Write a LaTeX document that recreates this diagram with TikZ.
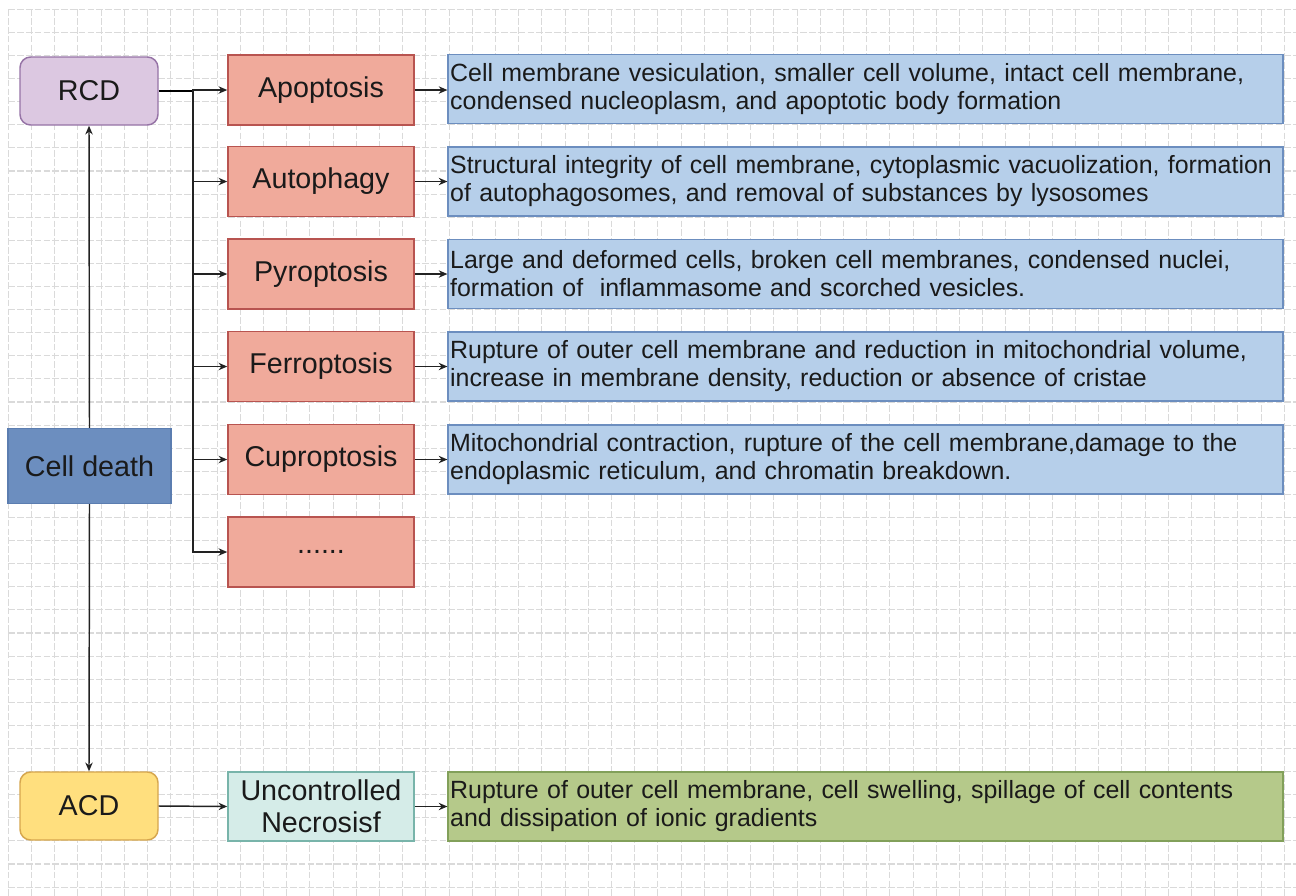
\documentclass[tikz,border=0pt]{standalone}
\usepackage{fontspec}
\setmainfont{Liberation Sans}
\usetikzlibrary{arrows.meta}
\definecolor{txt}{HTML}{1A1A1A}
\definecolor{gridc}{HTML}{DADADA}
\definecolor{rcdfill}{HTML}{DCC8E1}
\definecolor{rcddraw}{HTML}{9673A6}
\definecolor{redfill}{HTML}{F0AA9B}
\definecolor{reddraw}{HTML}{B85450}
\definecolor{bluefill}{HTML}{B6CFEA}
\definecolor{bluedraw}{HTML}{6C8EBF}
\definecolor{cdfill}{HTML}{6C8EBF}
\definecolor{cddraw}{HTML}{5B7DB0}
\definecolor{acdfill}{HTML}{FFDF7E}
\definecolor{acddraw}{HTML}{D6A64E}
\definecolor{necfill}{HTML}{D5ECE8}
\definecolor{necdraw}{HTML}{78B4AA}
\definecolor{grnfill}{HTML}{B5C98A}
\definecolor{grndraw}{HTML}{82A05A}
\definecolor{linec}{HTML}{222222}
\tikzset{
  gridline/.style={draw=gridc, line width=0.8pt, dash pattern=on 5pt off 1.6pt},
  basebox/.style={draw, line width=1.1pt, text=txt, inner sep=0pt, align=center},
  labelfont/.style={font=\fontsize{21.5}{24}\selectfont},
  descfont/.style={font=\fontsize{18.7}{21}\selectfont},
  roundbox/.style={basebox, rounded corners=8pt, minimum width=103.5pt, minimum height=51pt, labelfont},
  redbox/.style={basebox, fill=redfill, draw=reddraw, minimum width=139.5pt, minimum height=52.5pt, labelfont},
  descbox/.style={basebox, minimum width=626pt, minimum height=52pt, text width=623pt, inner xsep=1.5pt, align=left, descfont},
  arr/.style={draw=linec, line width=1.1pt, -{Stealth[length=6.5pt,width=5.5pt]}},
  trunkline/.style={draw=black, line width=2.2pt}
}
\begin{document}
\begin{tikzpicture}[x=0.75pt,y=-0.75pt]
\useasboundingbox (0,0) rectangle (1296,896);
\fill[white] (0,0) rectangle (1296,896);
% grid
\foreach \i in {0,...,55} \draw[gridline] ({8.3+23.2*\i},9.3) -- ({8.3+23.2*\i},896);
\foreach \j in {0,...,38} \draw[gridline] (8.3,{9.3+23.1*\j}) -- (1296,{9.3+23.1*\j});

% left column
\node[roundbox, fill=rcdfill, draw=rcddraw] (rcd) at (89,91) {RCD};
\node[basebox, fill=cdfill, draw=cddraw, minimum width=122pt, minimum height=56pt, labelfont] (cd) at (89.5,466) {Cell death};
\node[roundbox, fill=acdfill, draw=acddraw] (acd) at (89,806) {ACD};

% red column
\node[redbox] (apo) at (321,90) {Apoptosis};
\node[redbox] (aut) at (321,181.5) {Autophagy};
\node[redbox] (pyr) at (321,274) {Pyroptosis};
\node[redbox] (fer) at (321,366.5) {Ferroptosis};
\node[redbox] (cup) at (321,459.5) {Cuproptosis};
\node[redbox] (dots) at (321,552) {......};
\node[basebox, fill=necfill, draw=necdraw, minimum width=139.5pt, minimum height=52pt, labelfont] (nec) at (321,806.5) {Uncontrolled\\Necrosisf};

% descriptions
\node[descbox, fill=bluefill, draw=bluedraw] (d1) at (865.5,89) {Cell membrane vesiculation, smaller cell volume, intact cell membrane,\\condensed nucleoplasm, and apoptotic body formation};
\node[descbox, fill=bluefill, draw=bluedraw] (d2) at (865.5,181.5) {Structural integrity of cell membrane, cytoplasmic vacuolization, formation\\of autophagosomes, and removal of substances by lysosomes};
\node[descbox, fill=bluefill, draw=bluedraw] (d3) at (865.5,274) {Large and deformed cells, broken cell membranes, condensed nuclei,\\formation of \ inflammasome and scorched vesicles.};
\node[descbox, fill=bluefill, draw=bluedraw] (d4) at (865.5,366.5) {Rupture of outer cell membrane and reduction in mitochondrial volume,\\increase in membrane density, reduction or absence of cristae};
\node[descbox, fill=bluefill, draw=bluedraw] (d5) at (865.5,459.5) {Mitochondrial contraction, rupture of the cell membrane,damage to the\\endoplasmic reticulum, and chromatin breakdown.};
\node[descbox, fill=grnfill, draw=grndraw] (d6) at (865.5,806.5) {Rupture of outer cell membrane, cell swelling, spillage of cell contents\\and dissipation of ionic gradients};

% connectors
\coordinate (ttop) at (193,91);
\coordinate (tbot) at (193,552);
\draw[trunkline] (rcd.east) -- (ttop) -- (193,240);
\draw[draw=black, line width=1.6pt] (ttop) -- (tbot);
\foreach \n in {apo,aut,pyr,fer,cup,dots} \draw[arr] (ttop) |- (\n.west);
\draw[arr] (cd.north) -- (rcd.south);
\draw[arr] (cd.south) -- (acd.north);
\draw[arr] (acd.east) -- (nec.west);
\draw[arr] (apo.east) -- (d1.west |- apo.east);
\draw[arr] (aut.east) -- (d2.west);
\draw[arr] (pyr.east) -- (d3.west);
\draw[arr] (fer.east) -- (d4.west);
\draw[arr] (cup.east) -- (d5.west);
\draw[arr] (nec.east) -- (d6.west);
\end{tikzpicture}
\end{document}
